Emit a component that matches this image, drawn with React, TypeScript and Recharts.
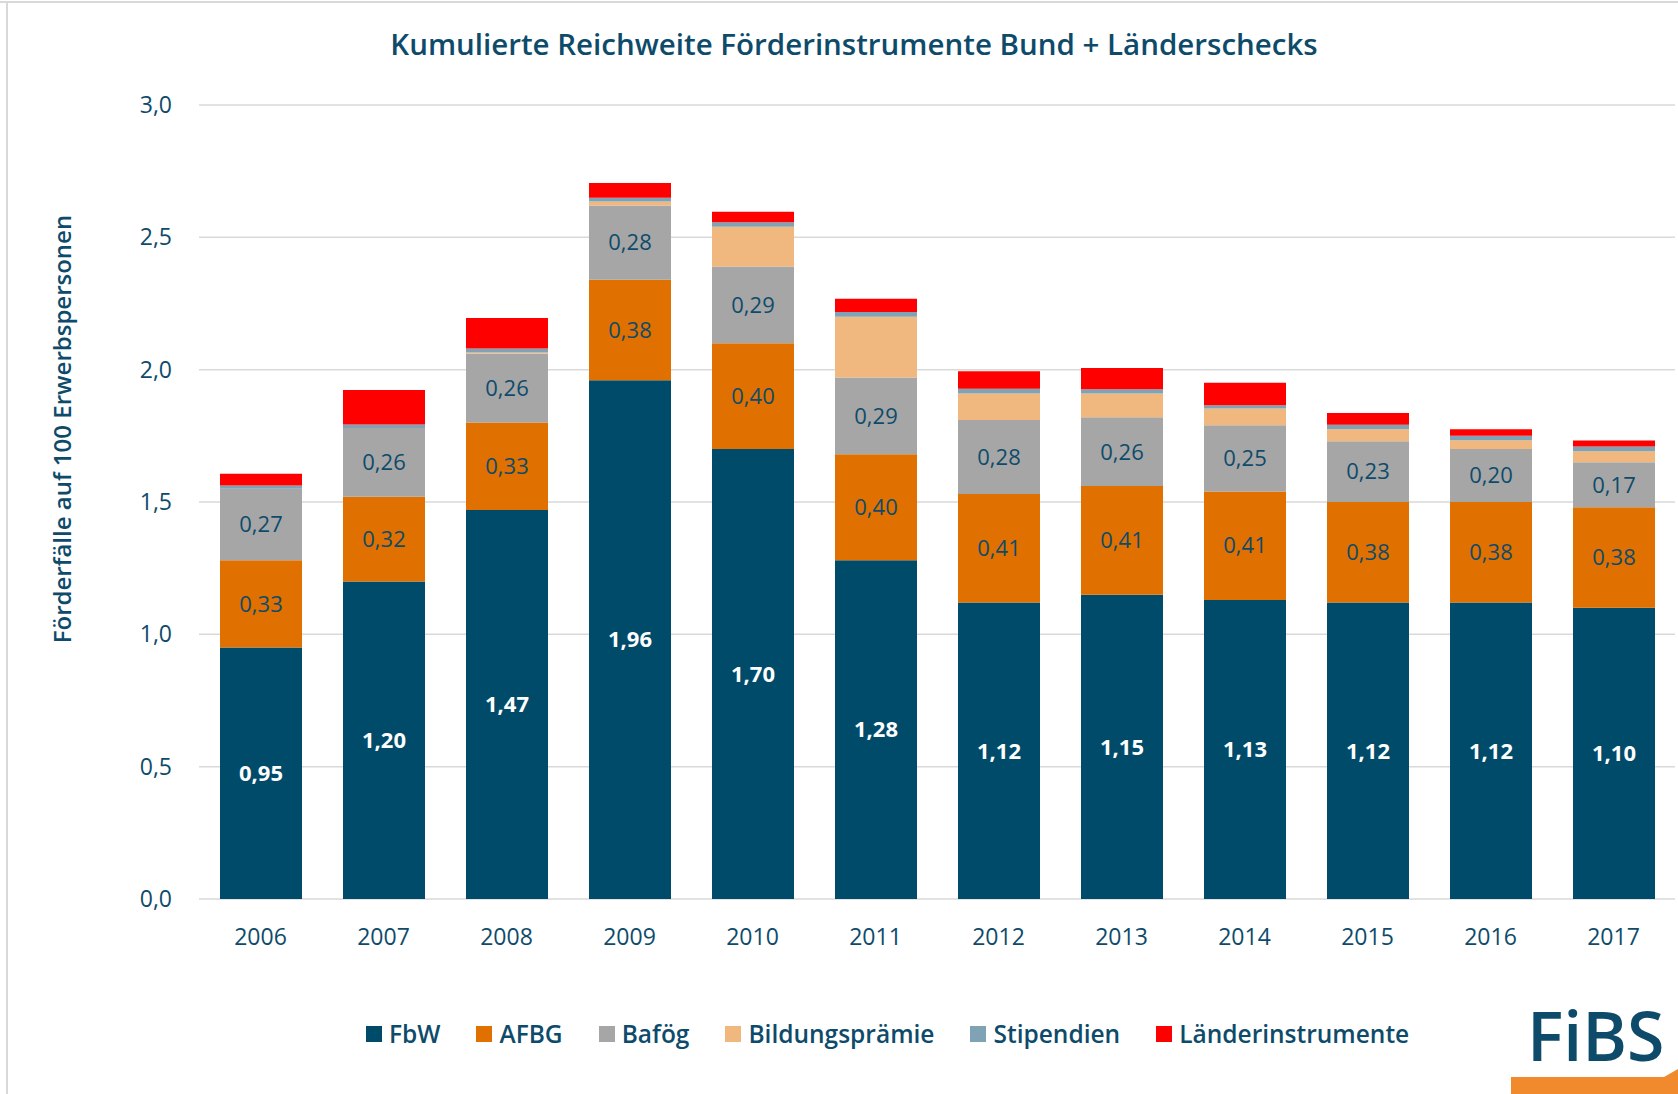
import { BarChart, Bar, XAxis, YAxis, CartesianGrid, LabelList } from "recharts";

const years = ["2006", "2007", "2008", "2009", "2010", "2011", "2012", "2013", "2014", "2015", "2016", "2017"];
const fbw = [0.95, 1.2, 1.47, 1.96, 1.7, 1.28, 1.12, 1.15, 1.13, 1.12, 1.12, 1.1];
const afbg = [0.33, 0.32, 0.33, 0.38, 0.4, 0.4, 0.41, 0.41, 0.41, 0.38, 0.38, 0.38];
const bafoeg = [0.27, 0.26, 0.26, 0.28, 0.29, 0.29, 0.28, 0.26, 0.25, 0.23, 0.2, 0.17];
const bildung = [0, 0, 0.005, 0.015, 0.15, 0.23, 0.1, 0.09, 0.063, 0.045, 0.033, 0.042];
const stipendien = [0.012, 0.013, 0.015, 0.015, 0.017, 0.018, 0.018, 0.016, 0.013, 0.017, 0.017, 0.018];
const laender = [0.045, 0.13, 0.115, 0.055, 0.04, 0.05, 0.066, 0.08, 0.085, 0.044, 0.025, 0.022];
const yTicks = [0, 0.5, 1, 1.5, 2, 2.5, 3];

const TEAL = "#0e4b6b";
const FONT = "'Open Sans', sans-serif";

const series = [
  { key: "FbW", color: "#004b6a" },
  { key: "AFBG", color: "#e07000" },
  { key: "Bafög", color: "#a6a6a6" },
  { key: "Bildungsprämie", color: "#f0b77f" },
  { key: "Stipendien", color: "#7fa3b4" },
  { key: "Länderinstrumente", color: "#ff0000" },
];

const data = years.map((year, i) => ({
  year,
  FbW: fbw[i],
  AFBG: afbg[i],
  Bafög: bafoeg[i],
  Bildungsprämie: bildung[i],
  Stipendien: stipendien[i],
  Länderinstrumente: laender[i],
}));

const fmt2 = (v: any) => Number(v).toFixed(2).replace(".", ",");
const fmt1 = (v: any) => Number(v).toFixed(1).replace(".", ",");

function YLabel() {
  return (
    <text
      x={61}
      y={429}
      transform="rotate(-90, 61, 429)"
      textAnchor="middle"
      dominantBaseline="central"
      fill={TEAL}
      fontFamily={FONT}
      fontWeight={600}
      fontSize={24}
    >
      Förderfälle auf 100 Erwerbspersonen
    </text>
  );
}

export default function App() {
  return (
    <div style={{ position: "absolute", left: 0, top: 0, width: 1678, height: 1094, background: "#fff", fontFamily: FONT, overflow: "hidden" }}>
      {/* frame */}
      <div style={{ position: "absolute", left: 0, top: 1, width: 1678, height: 2, background: "#d9d9d9" }} />
      <div style={{ position: "absolute", left: 6, top: 1, width: 2, height: 1093, background: "#d9d9d9" }} />

      <div
        style={{
          position: "absolute",
          left: 0,
          width: 1708,
          top: 23,
          textAlign: "center",
          color: TEAL,
          fontSize: 29.5,
          fontWeight: 600,
        }}
      >
        Kumulierte Reichweite Förderinstrumente Bund + Länderschecks
      </div>

      <BarChart width={1678} height={1094} data={data} margin={{ top: 105, right: 3, bottom: 135, left: 0 }}>
        <CartesianGrid vertical={false} stroke="#d9d9d9" strokeWidth={1.5} />
        <XAxis
          dataKey="year"
          height={60}
          axisLine={false}
          tickLine={false}
          tickSize={0}
          tickMargin={30}
          tick={{ fill: TEAL, fontSize: 23, fontFamily: FONT }}
        />
        <YAxis
          width={199}
          domain={[0, 3]}
          ticks={yTicks}
          axisLine={false}
          tickLine={false}
          tickSize={0}
          tickMargin={27}
          tickFormatter={fmt1}
          tick={{ fill: TEAL, fontSize: 23, fontFamily: FONT }}
          label={<YLabel />}
        />
        {series.map((s) => (
          <Bar key={s.key} dataKey={s.key} stackId="a" fill={s.color} barSize={82} isAnimationActive={false}>
            {s.key === "FbW" && (
              <LabelList dataKey={s.key} position="center" formatter={fmt2} fill="#fff" fontSize={22} fontWeight={700} fontFamily={FONT} />
            )}
            {(s.key === "AFBG" || s.key === "Bafög") && (
              <LabelList dataKey={s.key} position="center" formatter={fmt2} fill={TEAL} fontSize={22} fontFamily={FONT} />
            )}
          </Bar>
        ))}
      </BarChart>

      {/* legend */}
      <div style={{ position: "absolute", left: 366, top: 1017, display: "flex", alignItems: "center", color: TEAL, fontSize: 24.5, fontWeight: 600 }}>
        {series.map((s) => (
          <div key={s.key} style={{ display: "flex", alignItems: "center", marginRight: 36 }}>
            <span style={{ width: 16, height: 16, background: s.color, display: "inline-block", marginRight: 7 }} />
            <span>{s.key}</span>
          </div>
        ))}
      </div>

      {/* logo */}
      <div style={{ position: "absolute", left: 1527, top: 995, color: "#0e4b6b", fontSize: 68, fontWeight: 600, lineHeight: "80px" }}>FiBS</div>
      <svg style={{ position: "absolute", left: 0, top: 0 }} width={1678} height={1094}>
        <polygon points="1511,1094 1511,1077 1664,1077 1678,1069 1678,1094" fill="#f08a2c" />
      </svg>
    </div>
  );
}
